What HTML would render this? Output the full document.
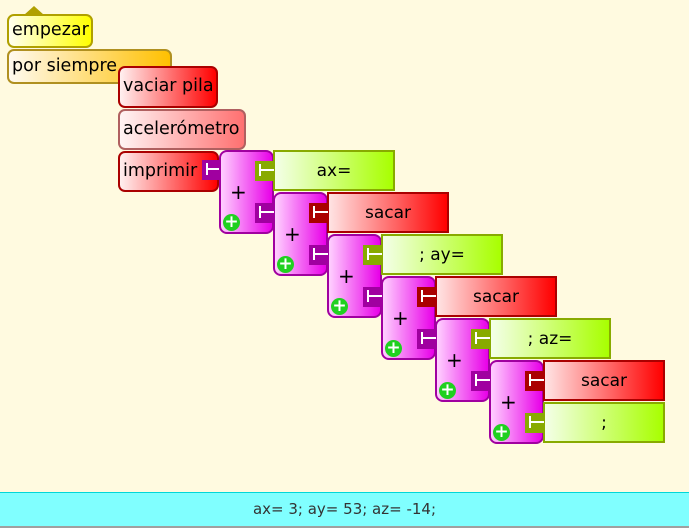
<!DOCTYPE html>
<html><head><meta charset="utf-8"><style>
html,body{margin:0;padding:0}
body{width:689px;height:528px;background:#fffae0;position:relative;overflow:hidden;font-family:"DejaVu Sans","Liberation Sans",sans-serif}
.b{position:absolute;box-sizing:border-box;border:2px solid;border-radius:7px;font-size:17.5px;color:#000;line-height:1;display:flex;align-items:center;padding-left:3px}
.v{position:absolute;box-sizing:border-box;border:2px solid;font-size:17px;display:flex;align-items:center;justify-content:center;height:41px;width:122px}
.g{border-color:#88aa00;background:linear-gradient(90deg,#f4ffe8,#a8ff00)}
.r{border-color:#aa0000;background:linear-gradient(90deg,#ffe4e4,#ff0000)}
.p{position:absolute;box-sizing:border-box;width:55px;height:84px;border:2px solid #a000a0;border-radius:8px;background:linear-gradient(90deg,#ffd0ff,#e800e8)}
.p .pl{position:absolute;left:9px;top:30px;font-size:20px;line-height:1}
.p .c{position:absolute;left:2px;top:62px;width:17px;height:17px;border-radius:50%;background:#20d020;color:#fff;font-size:17px;font-weight:bold;line-height:17px;text-align:center}
.s{position:absolute;width:18px;height:20px;box-sizing:border-box}
.s::before{content:"";position:absolute;left:4px;top:3px;width:2px;height:12px;background:#fff}
.s::after{content:"";position:absolute;left:5px;top:8px;width:14px;height:2px;background:#fff}
.sg{background:#88aa00}.sr{background:#aa0000}.sp{background:#a000a0}
</style></head><body>
<div class="b" style="left:7px;top:14px;width:86px;height:34px;border-color:#b0a000;background:linear-gradient(90deg,#fffff0,#ffff00)">empezar</div>
<div style="position:absolute;left:24px;top:6px;width:0;height:0;border-left:10px solid transparent;border-right:10px solid transparent;border-bottom:9px solid #b0a000"></div>
<div class="b" style="left:7px;top:49px;width:165px;height:35px;border-color:#b09020;background:linear-gradient(90deg,#fffaf0,#ffc000)">por siempre</div>
<div class="b" style="left:118px;top:66px;width:100px;height:42px;border-color:#aa0000;background:linear-gradient(90deg,#fff0f0,#ff0000)">vaciar pila</div>
<div class="b" style="left:118px;top:109px;width:128px;height:41px;border-color:#b06060;background:linear-gradient(90deg,#fff4f4,#ff7070)">acelerómetro</div>
<div class="b" style="left:118px;top:151px;width:101px;height:41px;border-color:#aa0000;background:linear-gradient(90deg,#fff0f0,#ff0000)">imprimir</div>
<div class="s sp" style="left:202px;top:160px;width:17px"></div>

<div class="p" style="left:219px;top:150px"><span class="pl">+</span><span class="c">+</span></div>
<div class="p" style="left:273px;top:192px"><span class="pl">+</span><span class="c">+</span></div>
<div class="p" style="left:327px;top:234px"><span class="pl">+</span><span class="c">+</span></div>
<div class="p" style="left:381px;top:276px"><span class="pl">+</span><span class="c">+</span></div>
<div class="p" style="left:435px;top:318px"><span class="pl">+</span><span class="c">+</span></div>
<div class="p" style="left:489px;top:360px"><span class="pl">+</span><span class="c">+</span></div>

<div class="v g" style="left:273px;top:150px">ax=</div>
<div class="v r" style="left:327px;top:192px">sacar</div>
<div class="v g" style="left:381px;top:234px">; ay=</div>
<div class="v r" style="left:435px;top:276px">sacar</div>
<div class="v g" style="left:489px;top:318px">; az=</div>
<div class="v r" style="left:543px;top:360px">sacar</div>
<div class="v g" style="left:543px;top:402px">;</div>

<div class="s sg" style="left:255px;top:161px"></div>
<div class="s sp" style="left:255px;top:203px"></div>
<div class="s sr" style="left:309px;top:203px"></div>
<div class="s sp" style="left:309px;top:245px"></div>
<div class="s sg" style="left:363px;top:245px"></div>
<div class="s sp" style="left:363px;top:287px"></div>
<div class="s sr" style="left:417px;top:287px"></div>
<div class="s sp" style="left:417px;top:329px"></div>
<div class="s sg" style="left:471px;top:329px"></div>
<div class="s sp" style="left:471px;top:371px"></div>
<div class="s sr" style="left:525px;top:371px"></div>
<div class="s sg" style="left:525px;top:413px"></div>

<div style="position:absolute;left:0;top:492px;width:689px;height:34px;background:#80ffff;border-top:1px solid #00d8d8;box-sizing:border-box;text-align:center;font-size:15px;line-height:33px;color:#333">ax= 3; ay= 53; az= -14;</div>
<div style="position:absolute;left:0;top:526px;width:689px;height:2px;background:#a0a0a0"></div>
</body></html>
